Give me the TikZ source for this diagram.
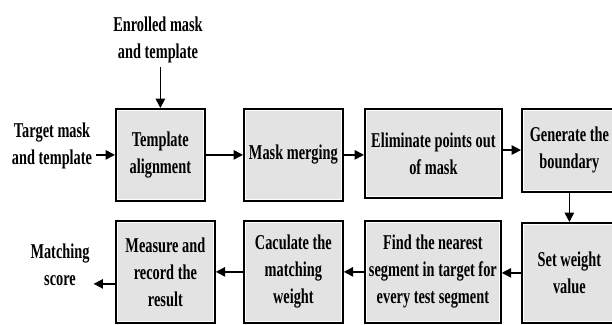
\documentclass[tikz,border=0pt]{standalone}
\usepackage{fontspec}
\setmainfont{Liberation Serif}[FakeStretch=0.68]
\usetikzlibrary{arrows.meta}
\begin{document}
\begin{tikzpicture}[
    stage/.style={draw,line width=1.5pt,fill=gray!22,align=center,inner sep=2pt,anchor=north west,
      path picture={\draw[white,line width=4pt] (path picture bounding box.south west) rectangle (path picture bounding box.north east);}},
    flow/.style={line width=1.3pt,-{Triangle[length=8pt,width=8pt]}},
    font=\fontsize{18}{23}\selectfont\bfseries
  ]
    \useasboundingbox (0,0) rectangle (18.36,9.72);
    % first row
    \node[stage,minimum width=2.67cm,minimum height=2.76cm] (align) at (3.45,6.48) {Template\\alignment};
    \node[stage,minimum width=2.97cm,minimum height=2.76cm] (merge) at (7.29,6.48) {Mask merging};
    \node[stage,minimum width=4.11cm,minimum height=2.67cm] (elim) at (10.92,6.48) {Eliminate points out\\of mask};
    \node[stage,minimum width=2.85cm,minimum height=2.49cm] (boundary) at (15.63,6.48) {Generate the\\boundary};
    % second row
    \node[stage,minimum width=2.85cm,minimum height=3.0cm] (weight) at (15.63,3.06) {Set weight\\value};
    \node[stage,minimum width=4.08cm,minimum height=3.06cm] (find) at (10.92,3.12) {Find the nearest\\segment in target for\\every test segment};
    \node[stage,minimum width=2.97cm,minimum height=3.06cm] (calc) at (7.29,3.12) {Caculate the\\matching\\weight};
    \node[stage,minimum width=2.97cm,minimum height=3.06cm] (measure) at (3.45,3.12) {Measure and\\record the\\result};
    % inputs and output
    \node[align=center] (enrolled) at (4.74,8.52) {Enrolled mask\\and template};
    \node[align=center] (target) at (1.56,5.34) {Target mask\\and template};
    \node[align=center] (score) at (1.8,1.77) {Matching\\score};
    % connectors
    \draw[flow] (enrolled.south -| align.north) -- (align.north);
    \draw[flow] (target.east |- align.west) -- (align.west);
    \draw[flow] (align.east) -- (align.east -| merge.west);
    \draw[flow] (merge.east) -- (merge.east -| elim.west);
    \draw[flow] ([yshift=0.1cm]elim.east) -- ([yshift=0.1cm]elim.east -| boundary.west);
    \draw[flow] (boundary.south) -- (boundary.south |- weight.north);
    \draw[flow] (weight.west) -- (weight.west -| find.east);
    \draw[flow] (find.west) -- (find.west -| calc.east);
    \draw[flow] (calc.west) -- (calc.west -| measure.east);
    \draw[flow] ([yshift=-0.36cm]measure.west) -- ([yshift=-0.36cm]measure.west -| score.east);
\end{tikzpicture}
\end{document}
